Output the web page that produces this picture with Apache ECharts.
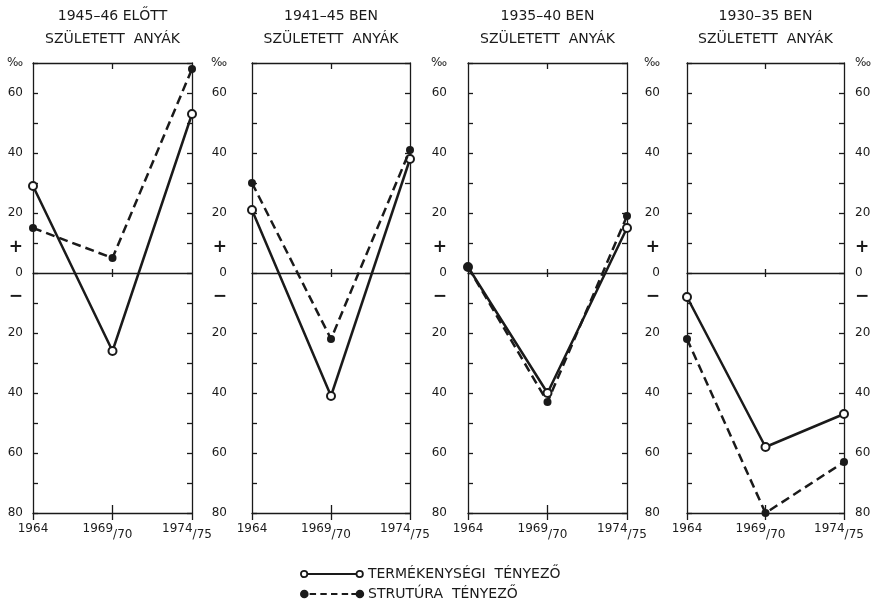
<!DOCTYPE html>
<html>
<head>
<meta charset="utf-8">
<script src="https://cdn.jsdelivr.net/npm/echarts@6/dist/echarts.min.js"></script>
<style>
  html, body { margin: 0; padding: 0; background: #fff; }
  #chart { width: 876px; height: 607px; }
</style>
</head>
<body>
<div id="chart"></div>
<script>
// Survey years on the horizontal axis
const categories = ['1964', '1969/70', '1974/75'];

// Panel headings (mothers' birth cohorts)
const panelTitles = ['1945–46 ELŐTT', '1941–45 BEN', '1935–40 BEN', '1930–35 BEN'];
const panelSubtitle = 'SZÜLETETT  ANYÁK';

// Series names
const seriesNames = ['TERMÉKENYSÉGI  TÉNYEZŐ', 'STRUTÚRA  TÉNYEZŐ'];

// Values in per mille, one row per panel
const fertility = [
  [29, -26, 53],
  [21, -41, 38],
  [2, -40, 15],
  [-8, -58, -47]
];
const structure = [
  [15, 5, 68],
  [30, -22, 41],
  [2, -43, 19],
  [-22, -80, -63]
];

// Vertical scale (per mille)
const yMin = -80, yMax = 70, yStep = 10;

const INK = '#1a1a1a';
const FONT = 'DejaVu Sans';

// Plot boxes
const panelLeft = [33, 252, 468, 687];
const panelWidth = [159, 158, 159, 157];
const panelTop = 63, panelHeight = 450;
const leftLabelMargin = [10, 25, 21, 27];

const chart = echarts.init(document.getElementById('chart'));

function yLabel(v) {
  if (v === yMax) return '‰';
  if (v === 10) return '{p|+}';
  if (v === -10) return '{m|−}';
  if (v % 20 === 0) return String(Math.abs(v));
  return '';
}

// "1969/70" -> year with the second half set lower
function xLabel(v) {
  const parts = v.split('/');
  return parts.length > 1 ? '{a|' + parts[0] + '}{s|/' + parts[1] + '}' : v;
}

const labelRich = {
  p: { fontFamily: FONT, fontSize: 17, fontWeight: 'bold', color: INK, padding: [10, 0, 0, 0] },
  m: { fontFamily: FONT, fontSize: 17, fontWeight: 'bold', color: INK, padding: [0, 0, 12, 0] }
};

const grids = [], xAxes = [], yAxes = [], series = [], titles = [];

panelTitles.forEach((t, i) => {
  grids.push({ left: panelLeft[i], top: panelTop, width: panelWidth[i], height: panelHeight, containLabel: false });

  titles.push({
    text: t + '\n' + panelSubtitle,
    left: panelLeft[i] + panelWidth[i] / 2,
    top: 5,
    padding: 0,
    textAlign: 'center',
    textStyle: { fontFamily: FONT, fontSize: 14, fontWeight: 'normal', color: INK, lineHeight: 23 }
  });

  const lineStyle = { color: INK, width: 1.3 };
  const base = { type: 'category', data: categories, boundaryGap: false, gridIndex: i, splitLine: { show: false } };
  const xi = xAxes.length;
  // bottom axis with year labels
  xAxes.push(Object.assign({}, base, {
    position: 'bottom',
    axisLine: { onZero: false, lineStyle },
    axisTick: { show: true, inside: false, length: 7, lineStyle },
    axisLabel: {
      interval: 0, hideOverlap: false,
      fontFamily: FONT, fontSize: 12, color: INK, margin: 10,
      formatter: xLabel,
      rich: {
        a: { fontFamily: FONT, fontSize: 12, color: INK, verticalAlign: 'top' },
        s: { fontFamily: FONT, fontSize: 12, color: INK, verticalAlign: 'bottom', padding: [6, 10, 0, 0] }
      }
    }
  }));
  // inner half of the middle tick at the bottom
  xAxes.push(Object.assign({}, base, {
    position: 'bottom',
    axisLine: { show: false, onZero: false },
    axisTick: { show: true, inside: true, length: 8, lineStyle, interval: (idx) => idx === 1 },
    axisLabel: { show: false }
  }));
  // top frame
  xAxes.push(Object.assign({}, base, {
    position: 'top',
    axisLine: { onZero: false, lineStyle },
    axisTick: { show: true, inside: true, length: 6, lineStyle, interval: (idx) => idx === 1 },
    axisLabel: { show: false }
  }));
  // zero line with a small crossing tick
  xAxes.push(Object.assign({}, base, {
    position: 'bottom',
    axisLine: { onZero: true, lineStyle },
    axisTick: { show: true, inside: true, length: 4, lineStyle, interval: (idx) => idx === 1 },
    axisLabel: { show: false }
  }));
  xAxes.push(Object.assign({}, base, {
    position: 'bottom',
    axisLine: { show: false, onZero: true },
    axisTick: { show: true, inside: false, length: 4, lineStyle, interval: (idx) => idx === 1 },
    axisLabel: { show: false }
  }));

  const yBase = {
    type: 'value', gridIndex: i, min: yMin, max: yMax, interval: yStep,
    splitLine: { show: false },
    axisLine: { show: true, onZero: false, lineStyle },
    axisTick: { show: true, inside: true, length: 5, lineStyle }
  };
  const yi = yAxes.length;
  yAxes.push(Object.assign({}, yBase, {
    position: 'left',
    axisLabel: {
      show: true, fontFamily: FONT, fontSize: 12, color: INK, margin: leftLabelMargin[i],
      formatter: yLabel, rich: labelRich, showMinLabel: true, showMaxLabel: true
    }
  }));
  yAxes.push(Object.assign({}, yBase, {
    position: 'right',
    axisLabel: {
      show: i === panelTitles.length - 1, fontFamily: FONT, fontSize: 12, color: INK, margin: 11,
      formatter: yLabel, rich: labelRich, showMinLabel: true, showMaxLabel: true
    }
  }));

  series.push({
    name: seriesNames[0], type: 'line', xAxisIndex: xi, yAxisIndex: yi,
    data: fertility[i], clip: false, z: 3,
    symbol: 'emptyCircle', symbolSize: 8,
    lineStyle: { color: INK, width: 2.5, type: 'solid' },
    itemStyle: { color: INK, borderColor: INK, borderWidth: 1.4 }
  });
  series.push({
    name: seriesNames[1], type: 'line', xAxisIndex: xi, yAxisIndex: yi,
    data: structure[i], clip: false, z: 4,
    symbol: 'circle', symbolSize: 8,
    lineStyle: { color: INK, width: 2.5, type: [9, 5] },
    itemStyle: { color: INK }
  });
});

const solidIcon = 'path://M1,4A3,3,0,1,1,7,4A3,3,0,1,1,1,4ZM7,4L53,4M53,4A3,3,0,1,1,59,4A3,3,0,1,1,53,4Z';
const dashIcon = 'path://M1,4A3,3,0,1,1,7,4A3,3,0,1,1,1,4ZM9,4L15,4M19,4L25,4M29,4L35,4M39,4L45,4M48,4L53,4M53,4A3,3,0,1,1,59,4A3,3,0,1,1,53,4Z';

const legendBase = {
  left: 300,
  itemWidth: 62,
  itemHeight: 8,
  selectedMode: false,
  padding: 0,
  textStyle: { fontFamily: FONT, fontSize: 14, color: INK }
};

chart.setOption({
  backgroundColor: '#fff',
  animation: false,
  title: titles,
  grid: grids,
  xAxis: xAxes,
  yAxis: yAxes,
  series: series,
  legend: [
    Object.assign({}, legendBase, {
      top: 567,
      data: [{ name: seriesNames[0], icon: solidIcon, itemStyle: { color: '#fff', borderColor: INK, borderWidth: 1.8 } }]
    }),
    Object.assign({}, legendBase, {
      top: 587,
      data: [{ name: seriesNames[1], icon: dashIcon, itemStyle: { color: INK, borderColor: INK, borderWidth: 2.2 } }]
    })
  ]
});
</script>
</body>
</html>
